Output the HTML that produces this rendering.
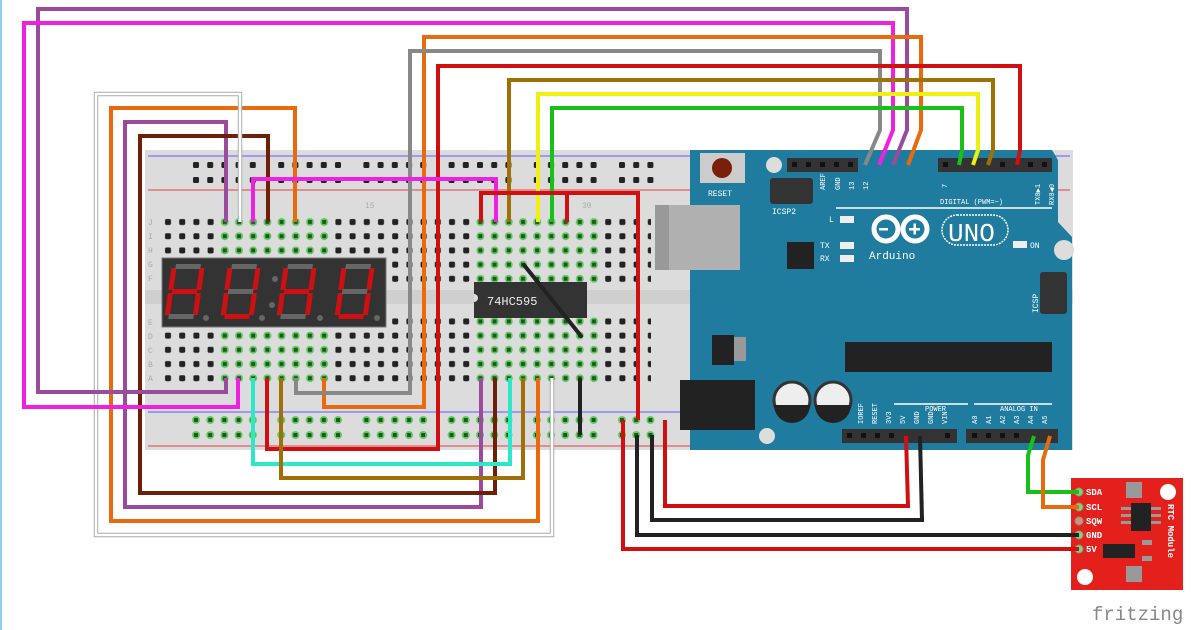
<!DOCTYPE html>
<html><head><meta charset="utf-8"><style>
html,body{margin:0;padding:0;background:#fff;width:1200px;height:630px;overflow:hidden}
svg{display:block}
text{font-family:"Liberation Mono","DejaVu Sans Mono",monospace}
</style></head><body>
<svg width="1200" height="630" viewBox="0 0 1200 630" xmlns="http://www.w3.org/2000/svg">
<defs>
<pattern id="hole" x="161" y="215" width="14.2" height="14.2" patternUnits="userSpaceOnUse">
<rect x="4" y="4" width="6" height="6" rx="1.5" fill="#222"/></pattern>
<pattern id="ghole" x="161" y="215" width="14.2" height="14.2" patternUnits="userSpaceOnUse">
<circle cx="7" cy="7" r="4" fill="#5dcc5d"/><rect x="5" y="5" width="4" height="4" fill="#225522"/></pattern>
<pattern id="rail" x="189" y="158" width="85.2" height="15" patternUnits="userSpaceOnUse">
<rect x="4" y="4" width="6" height="6" rx="1.5" fill="#222"/><rect x="18.2" y="4" width="6" height="6" rx="1.5" fill="#222"/><rect x="32.4" y="4" width="6" height="6" rx="1.5" fill="#222"/><rect x="46.6" y="4" width="6" height="6" rx="1.5" fill="#222"/><rect x="60.8" y="4" width="6" height="6" rx="1.5" fill="#222"/></pattern>
<pattern id="grail" x="189" y="413" width="85.2" height="15" patternUnits="userSpaceOnUse">
<g fill="#5dcc5d"><circle cx="7" cy="7" r="4"/><circle cx="21.2" cy="7" r="4"/><circle cx="35.4" cy="7" r="4"/><circle cx="49.6" cy="7" r="4"/><circle cx="63.8" cy="7" r="4"/></g>
<g fill="#225522"><rect x="5" y="5" width="4" height="4"/><rect x="19.2" y="5" width="4" height="4"/><rect x="33.4" y="5" width="4" height="4"/><rect x="47.6" y="5" width="4" height="4"/><rect x="61.8" y="5" width="4" height="4"/></g></pattern>
</defs>
<rect x="0" y="0" width="2" height="630" fill="#8cd0f0"/>
<!-- breadboard -->
<rect x="145" y="150" width="928" height="300" fill="#dcdcdc"/>
<rect x="145" y="290" width="928" height="14" fill="#cfcfcf"/>
<line x1="148" y1="156" x2="1070" y2="156" stroke="#5a5aff" stroke-width="1"/>
<line x1="148" y1="190" x2="1070" y2="190" stroke="#e04040" stroke-width="1"/>
<line x1="148" y1="412" x2="1070" y2="412" stroke="#5a5aff" stroke-width="1"/>
<line x1="148" y1="446" x2="1070" y2="446" stroke="#e04040" stroke-width="1"/>
<rect x="189" y="158" width="466" height="30" fill="url(#rail)"/>
<rect x="189" y="413" width="466" height="30" fill="url(#grail)"/>
<rect x="161" y="215" width="490" height="71" fill="url(#hole)"/>
<rect x="161" y="315" width="490" height="71" fill="url(#hole)"/>
<rect x="218" y="215" width="114" height="71" fill="url(#ghole)"/>
<rect x="218" y="315" width="114" height="71" fill="url(#ghole)"/>
<rect x="473" y="215" width="128" height="71" fill="url(#ghole)"/>
<rect x="473" y="315" width="128" height="71" fill="url(#ghole)"/>
<g font-size="8" fill="#aaa" font-family="Liberation Sans">
<text x="148" y="225">J</text><text x="148" y="239">I</text><text x="148" y="253">H</text><text x="148" y="267">G</text><text x="148" y="281">F</text>
<text x="148" y="325">E</text><text x="148" y="339">D</text><text x="148" y="353">C</text><text x="148" y="367">B</text><text x="148" y="381">A</text>
<text x="365" y="208">15</text><text x="582" y="208">30</text></g>
<!-- display -->
<rect x="162" y="258" width="224" height="69" fill="#333" stroke="#777"/>
<g fill="#d01010">
<g transform="translate(172,264) skewX(-8)"><rect x="0" y="4" width="5" height="22"/><rect x="28" y="4" width="5" height="22"/><rect x="4" y="25" width="25" height="5"/><rect x="0" y="29" width="5" height="22"/><rect x="28" y="29" width="5" height="22"/><rect x="4" y="0" width="25" height="5" fill="#666"/><rect x="4" y="50" width="25" height="5" fill="#666"/></g>
<g transform="translate(228,264) skewX(-8)"><rect x="0" y="4" width="5" height="22"/><rect x="28" y="4" width="5" height="22"/><rect x="0" y="29" width="5" height="22"/><rect x="28" y="29" width="5" height="22"/><rect x="4" y="50" width="25" height="5"/><rect x="4" y="0" width="25" height="5" fill="#666"/><rect x="4" y="25" width="25" height="5" fill="#666"/></g>
<g transform="translate(284,264) skewX(-8)"><rect x="0" y="4" width="5" height="22"/><rect x="28" y="4" width="5" height="22"/><rect x="4" y="25" width="25" height="5"/><rect x="0" y="29" width="5" height="22"/><rect x="28" y="29" width="5" height="22"/><rect x="4" y="0" width="25" height="5" fill="#666"/><rect x="4" y="50" width="25" height="5" fill="#666"/></g>
<g transform="translate(342,264) skewX(-8)"><rect x="0" y="4" width="5" height="22"/><rect x="28" y="4" width="5" height="22"/><rect x="0" y="29" width="5" height="22"/><rect x="28" y="29" width="5" height="22"/><rect x="4" y="50" width="25" height="5"/><rect x="4" y="0" width="25" height="5" fill="#666"/><rect x="4" y="25" width="25" height="5" fill="#666"/></g>
</g>
<g fill="#666"><circle cx="206" cy="318" r="3"/><circle cx="262" cy="318" r="3"/><circle cx="320" cy="318" r="3"/><circle cx="377" cy="318" r="3"/><circle cx="275" cy="279" r="3"/><circle cx="272" cy="305" r="3"/></g>
<!-- chip -->
<rect x="474" y="282" width="113" height="36" fill="#333"/>
<path d="M474,294 a4,4 0 0 1 0,8z" fill="#dcdcdc"/>
<text x="487" y="305" font-size="12" fill="#eee">74HC595</text>
<line x1="524" y1="265" x2="581" y2="336" stroke="#222" stroke-width="4" stroke-linecap="round"/>
<!-- arduino -->
<path d="M690,150 L1052,150 L1058,160 L1058,222 L1072,237 L1072,450 L690,450 Z" fill="#1f7c9e"/>
<rect x="655" y="205" width="85" height="65" fill="#b0b0b0"/><rect x="655" y="205" width="14" height="65" fill="#999"/>
<rect x="700" y="153" width="45" height="30" fill="#ccc"/><circle cx="722" cy="168" r="10" fill="#7a1f0a"/>
<text x="708" y="196" font-size="8" fill="#fff">RESET</text>
<circle cx="774" cy="165" r="8" fill="#ddd"/>
<rect x="787" y="158" width="71" height="14" fill="#333"/><rect x="938" y="158" width="114" height="14" fill="#333"/>
<g fill="#111"><rect x="792" y="162" width="5" height="5"/><rect x="806" y="162" width="5" height="5"/><rect x="820" y="162" width="5" height="5"/><rect x="834" y="162" width="5" height="5"/><rect x="848" y="162" width="5" height="5"/>
<rect x="943" y="162" width="5" height="5"/><rect x="1000" y="162" width="5" height="5"/><rect x="1028" y="162" width="5" height="5"/><rect x="1042" y="162" width="5" height="5"/></g>
<rect x="770" y="178" width="43" height="26" rx="3" fill="#333"/>
<text x="772" y="214" font-size="8" fill="#fff">ICSP2</text>
<g font-size="7" fill="#fff"><text transform="translate(825,190) rotate(-90)">AREF</text><text transform="translate(840,190) rotate(-90)">GND</text><text transform="translate(854,190) rotate(-90)">13</text><text transform="translate(868,190) rotate(-90)">12</text>
<text transform="translate(947,188) rotate(-90)">7</text><text transform="translate(1040,205) rotate(-90)">TX0▶1</text><text transform="translate(1054,205) rotate(-90)">RX0◀0</text>
<text x="940" y="204">DIGITAL (PWM=~)</text></g>
<line x1="836" y1="208" x2="1052" y2="208" stroke="#fff" stroke-width="1.5"/>
<text x="829" y="222" font-size="8" fill="#fff">L</text><rect x="840" y="216" width="14" height="7" fill="#eee"/>
<text x="820" y="248" font-size="8" fill="#fff">TX</text><rect x="840" y="242" width="14" height="7" fill="#eee"/>
<text x="820" y="261" font-size="8" fill="#fff">RX</text><rect x="840" y="255" width="14" height="7" fill="#eee"/>
<rect x="787" y="242" width="27" height="27" fill="#222"/>
<g fill="none" stroke="#fff" stroke-width="5"><circle cx="886" cy="229" r="12"/><circle cx="915" cy="229" r="12"/></g>
<rect x="879" y="228" width="9" height="2.5" fill="#fff"/><rect x="909" y="228" width="11" height="2.5" fill="#fff"/><rect x="913.5" y="223.5" width="2.5" height="11" fill="#fff"/>
<rect x="942" y="215" width="66" height="30" rx="15" fill="none" stroke="#fff" stroke-width="1.5" stroke-dasharray="2,1"/>
<text x="948" y="241" font-size="26" fill="#fff" font-family="Liberation Sans">UNO</text>
<text x="869" y="259" font-size="11" fill="#fff">Arduino</text>
<rect x="1013" y="241" width="14" height="7" fill="#eee"/><text x="1030" y="248" font-size="8" fill="#fff">ON</text>
<circle cx="1064" cy="250" r="10" fill="#ddd"/>
<rect x="1040" y="272" width="27" height="42" rx="3" fill="#333"/>
<text transform="translate(1038,313) rotate(-90)" font-size="8" fill="#fff">ICSP</text>
<rect x="845" y="342" width="207" height="30" fill="#222"/>
<rect x="712" y="335" width="22" height="30" fill="#222"/><rect x="734" y="337" width="12" height="24" fill="#999"/>
<rect x="680" y="380" width="75" height="50" fill="#222"/>
<circle cx="792" cy="400" r="18" fill="#eee" stroke="#333" stroke-width="3"/><path d="M774,405 A18,18 0 0 0 810,405Z" fill="#222"/>
<circle cx="833" cy="400" r="18" fill="#eee" stroke="#333" stroke-width="3"/><path d="M815,405 A18,18 0 0 0 851,405Z" fill="#222"/>
<circle cx="767" cy="436" r="8" fill="#ddd"/>
<line x1="894" y1="404" x2="968" y2="404" stroke="#fff" stroke-width="1.5"/><line x1="974" y1="404" x2="1052" y2="404" stroke="#fff" stroke-width="1.5"/>
<text x="925" y="411" font-size="7" fill="#fff">POWER</text><text x="1000" y="411" font-size="7" fill="#fff">ANALOG IN</text>
<g font-size="7" fill="#fff"><text transform="translate(863,424) rotate(-90)">IOREF</text><text transform="translate(877,424) rotate(-90)">RESET</text><text transform="translate(891,424) rotate(-90)">3V3</text><text transform="translate(905,424) rotate(-90)">5V</text><text transform="translate(919,424) rotate(-90)">GND</text><text transform="translate(933,424) rotate(-90)">GND</text><text transform="translate(947,424) rotate(-90)">VIN</text>
<text transform="translate(977,424) rotate(-90)">A0</text><text transform="translate(991,424) rotate(-90)">A1</text><text transform="translate(1005,424) rotate(-90)">A2</text><text transform="translate(1019,424) rotate(-90)">A3</text><text transform="translate(1033,424) rotate(-90)">A4</text><text transform="translate(1047,424) rotate(-90)">A5</text></g>
<rect x="842" y="429" width="115" height="14" fill="#333"/><rect x="966" y="429" width="92" height="14" fill="#333"/>
<g fill="#111"><rect x="847" y="433" width="5" height="5"/><rect x="861" y="433" width="5" height="5"/><rect x="875" y="433" width="5" height="5"/><rect x="889" y="433" width="5" height="5"/><rect x="945" y="433" width="5" height="5"/><rect x="972" y="433" width="5" height="5"/><rect x="986" y="433" width="5" height="5"/><rect x="1000" y="433" width="5" height="5"/><rect x="1014" y="433" width="5" height="5"/></g>
<!-- RTC -->
<rect x="1071" y="478" width="112" height="112" fill="#e4201c"/>
<circle cx="1168" cy="492" r="8" fill="#fff"/><circle cx="1085" cy="577" r="8" fill="#fff"/>
<rect x="1126" y="482" width="16" height="16" fill="#999"/><rect x="1126" y="566" width="16" height="16" fill="#999"/>
<rect x="1131" y="503" width="20" height="28" fill="#222"/><rect x="1103" y="544" width="32" height="14" fill="#222"/>
<g fill="#999"><rect x="1121" y="507" width="10" height="3"/><rect x="1121" y="514" width="10" height="3"/><rect x="1121" y="521" width="10" height="3"/><rect x="1151" y="507" width="10" height="3"/><rect x="1151" y="514" width="10" height="3"/><rect x="1151" y="521" width="10" height="3"/><rect x="1142" y="540" width="10" height="5"/><rect x="1142" y="556" width="10" height="5"/></g>
<text transform="translate(1168,504) rotate(90)" font-size="9" fill="#fff" font-weight="bold">RTC Module</text>
<g font-size="9" fill="#fff" font-weight="bold"><text x="1086" y="495">SDA</text><text x="1086" y="510">SCL</text><text x="1086" y="524">SQW</text><text x="1086" y="538">GND</text><text x="1086" y="552">5V</text></g>
<g fill="#8c8" stroke="#6a6"><circle cx="1079" cy="492" r="4"/><circle cx="1079" cy="507" r="4"/><circle cx="1079" cy="521" r="4" fill="#d88"/><circle cx="1079" cy="535" r="4"/><circle cx="1079" cy="549" r="4"/></g>
<text x="1092" y="620" font-size="19" fill="#888" font-family="DejaVu Sans Mono,monospace">fritzing</text>
<!-- wires -->
<g fill="none" stroke-width="4" stroke-linejoin="miter">
<polyline stroke="#9b4b9b" points="226,222 226,122 125,122 125,507 481,507 481,378"/>
<polyline stroke="#6e1f08" points="268,222 268,136 140,136 140,493 495,493 495,378"/>
<polyline stroke="#e86a0c" points="295,222 295,108 111,108 111,521 538,521 538,378"/>
<polyline stroke="#aaa" stroke-width="4.5" points="240,222 240,94 96,94 96,535 552,535 552,378"/>
<polyline stroke="#fff" stroke-width="2.5" points="240,222 240,94 96,94 96,535 552,535 552,378"/>
<polyline stroke="#9b4b9b" points="226,378 226,392 38,392 38,9 907,9 907,130 893,165"/>
<polyline stroke="#f020e0" points="238,378 238,407 24,407 24,23 893,23 893,130 879,165"/>
<polyline stroke="#e86a0c" points="324,378 324,407 424,407 424,37 921,37 921,130 908,165"/>
<polyline stroke="#888" points="296,378 296,393 410,393 410,51 880,51 880,130 865,165"/>
<polyline stroke="#d01010" points="267,378 267,449 438,449 438,66 1020,66 1020,150 1017,165"/>
<polyline stroke="#a07008" points="509,222 509,80 993,80 993,150 988,165"/>
<polyline stroke="#f0f010" points="538,222 538,94 978,94 978,150 973,165"/>
<polyline stroke="#18c018" points="552,222 552,108 962,108 962,150 959,165"/>
<polyline stroke="#f020e0" points="253,222 253,179 496,179 496,222"/>
<polyline stroke="#d01010" points="481,222 481,193 638,193 638,420"/>
<line stroke="#d01010" x1="567" y1="193" x2="567" y2="222"/>
<polyline stroke="#2de8c8" points="253,378 253,464 510,464 510,378"/>
<polyline stroke="#a07008" points="281,378 281,478 523,478 523,378"/>
<line stroke="#222" x1="580" y1="378" x2="580" y2="435"/>
<polyline stroke="#d01010" points="623,420 623,549 1079,549"/>
<polyline stroke="#222" points="637,435 637,535 1079,535"/>
<polyline stroke="#222" points="652,435 652,520 922,520 920,436"/>
<polyline stroke="#d01010" points="665,420 665,506 908,506 906,436"/>
<polyline stroke="#18c018" points="1034,436 1028,455 1028,492 1079,492"/>
<polyline stroke="#e86a0c" points="1050,436 1043,460 1043,507 1079,507"/>
</g>
</svg>
</body></html>
